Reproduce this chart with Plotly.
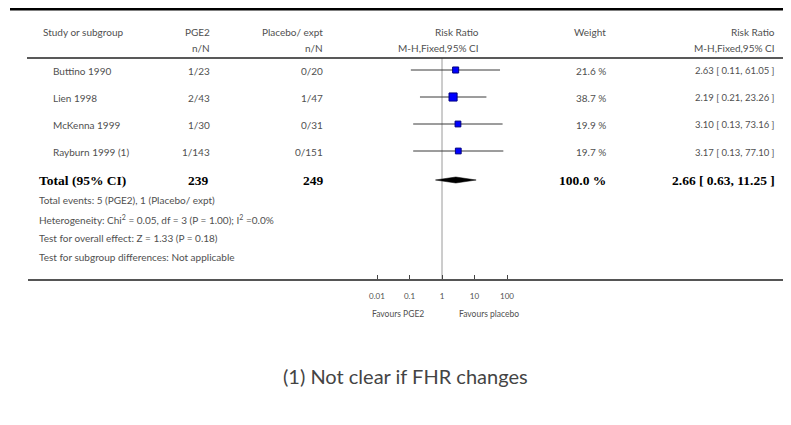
import plotly.graph_objects as go

# ---------------- data ----------------
studies = ["Buttino 1990", "Lien 1998", "McKenna 1999", "Rayburn 1999 (1)"]
pge2_nN = ["1/23", "2/43", "1/30", "1/143"]
placebo_nN = ["0/20", "1/47", "0/31", "0/151"]
rr = [2.63, 2.19, 3.10, 3.17]
rr_lo = [0.11, 0.21, 0.13, 0.13]
rr_hi = [61.05, 23.26, 73.16, 77.10]
weights = [21.6, 38.7, 19.9, 19.7]

total_pge2 = 239
total_placebo = 249
total_rr = 2.66
total_lo = 0.63
total_hi = 11.25
total_weight = 100.0

tick_vals = [0.01, 0.1, 1, 10, 100]
tick_text = ["0.01", "0.1", "1", "10", "100"]

footer_lines = [
    "Total events: 5 (PGE2), 1 (Placebo/ expt)",
    "Heterogeneity: Chi<sup>2</sup> = 0.05, df = 3 (P = 1.00); I<sup>2</sup> =0.0%",
    "Test for overall effect: Z = 1.33 (P = 0.18)",
    "Test for subgroup differences: Not applicable",
]
footnote = "(1) Not clear if FHR changes"

# ---------------- layout helpers (page pixel coords) ----------------
OFF = 8                    # page body margin
W, H = 783, 417
L, R = 28, 785             # plot area (page px)
AXIS_Y = 279               # axis line (page px)
ONE_X = 442.0
PX_PER_DEC = 32.5
x_range = [(L - ONE_X) / PX_PER_DEC, (R - ONE_X) / PX_PER_DEC]
PLOT_H = AXIS_Y - OFF


def px(x):
    return (x - L) / (R - L)


def py(y):
    return 1 - (y - OFF) / PLOT_H


row_y = [70, 97, 124, 151]
total_y = 180

SANS = "Lato, 'Gill Sans', sans-serif"
SERIF = "'Liberation Serif', 'Times New Roman', serif"
TXT = "#505050"

fig = go.Figure()

# vertical line of no effect
fig.add_trace(go.Scatter(x=[1, 1], y=[58, AXIS_Y], mode="lines",
                         line=dict(color="#9a9a9a", width=1), hoverinfo="skip"))

# confidence intervals
for lo, hi, y in zip(rr_lo, rr_hi, row_y):
    fig.add_trace(go.Scatter(x=[lo, hi], y=[y, y], mode="lines",
                             line=dict(color="#3a3a3a", width=1), hoverinfo="skip"))

# point estimates (size by weight)
sizes = [1.3 * (w ** 0.5) for w in weights]
fig.add_trace(go.Scatter(x=rr, y=row_y, mode="markers",
                         marker=dict(symbol="square", size=sizes, color="#0000ff",
                                     opacity=1, line=dict(color="#000080", width=1)),
                         hoverinfo="skip"))

# pooled diamond
fig.add_trace(go.Scatter(x=[total_lo, total_rr, total_hi, total_rr, total_lo],
                         y=[total_y, total_y - 3, total_y, total_y + 3, total_y],
                         mode="lines", fill="toself", fillcolor="#000000",
                         line=dict(color="#000000", width=0.5), hoverinfo="skip"))

ann = []


def text(x, y, s, anchor="left", size=10, color=TXT, family=SANS):
    ann.append(dict(x=px(x), y=py(y), xref="paper", yref="paper", text=s, showarrow=False,
                    xanchor=anchor, yanchor="middle",
                    font=dict(family=family, size=size, color=color)))


# headers
text(41, 32, "Study or subgroup")
text(212, 32, "PGE2", "right")
text(212, 48, "n/N", "right")
text(325, 32, "Placebo/ expt", "right")
text(325, 48, "n/N", "right")
text(481, 32, "Risk Ratio", "right")
text(481, 48, "M-H,Fixed,95% CI", "right")
text(608, 32, "Weight", "right")
text(777, 32, "Risk Ratio", "right")
text(777, 48, "M-H,Fixed,95% CI", "right")

# study rows
for name, a, b, r, lo, hi, w, y in zip(studies, pge2_nN, placebo_nN, rr, rr_lo, rr_hi, weights, row_y):
    ty = y + 1
    text(51, ty, name)
    text(212, ty, a, "right")
    text(325, ty, b, "right")
    text(608, ty, f"{w:.1f} %", "right")
    text(777, ty, f"{r:.2f} [ {lo:.2f}, {hi:.2f} ]", "right", size=9.5)

# total row
text(37, total_y, "<b>Total (95% CI)</b>", size=13.5, color="#000", family=SERIF)
text(211, total_y, f"<b>{total_pge2}</b>", "right", size=13.5, color="#000", family=SERIF)
text(326, total_y, f"<b>{total_placebo}</b>", "right", size=13.5, color="#000", family=SERIF)
text(608, total_y, f"<b>{total_weight:.1f} %</b>", "right", size=13.5, color="#000", family=SERIF)
text(777, total_y, f"<b>{total_rr:.2f} [ {total_lo:.2f}, {total_hi:.2f} ]</b>", "right",
     size=13.5, color="#000", family=SERIF)

# footer lines
for i, s in enumerate(footer_lines):
    text(37, 200 + 19 * i, s, size=10)

# favours labels
text(398, 314, "Favours PGE2", "center", size=8.5)
text(489, 314, "Favours placebo", "center", size=8.5)

# footnote
text(405, 376, footnote, "center", size=20, color="#444444")

shapes = [
    dict(type="line", xref="paper", yref="paper", x0=px(10), x1=px(784), y0=py(9), y1=py(9),
         line=dict(color="#000000", width=3)),
    dict(type="line", xref="paper", yref="paper", x0=px(27), x1=px(783), y0=py(58), y1=py(58),
         line=dict(color="#222222", width=1.5)),
]

fig.update_layout(
    width=W, height=H,
    margin=dict(l=L - OFF, r=W - (R - OFF), t=0, b=H - PLOT_H),
    paper_bgcolor="white", plot_bgcolor="white",
    showlegend=False,
    annotations=ann, shapes=shapes,
    xaxis=dict(type="log", range=x_range, tickvals=tick_vals, ticktext=tick_text,
               showgrid=False, zeroline=False, showline=True, linecolor="#555555",
               linewidth=1.5, ticks="inside", ticklen=4, tickwidth=1, tickcolor="#444",
               tickfont=dict(family=SANS, size=8, color=TXT), ticklabelstandoff=9,
               fixedrange=True),
    yaxis=dict(range=[AXIS_Y, OFF], visible=False, showgrid=False, zeroline=False,
               fixedrange=True),
)

fig.write_html("out.html")
